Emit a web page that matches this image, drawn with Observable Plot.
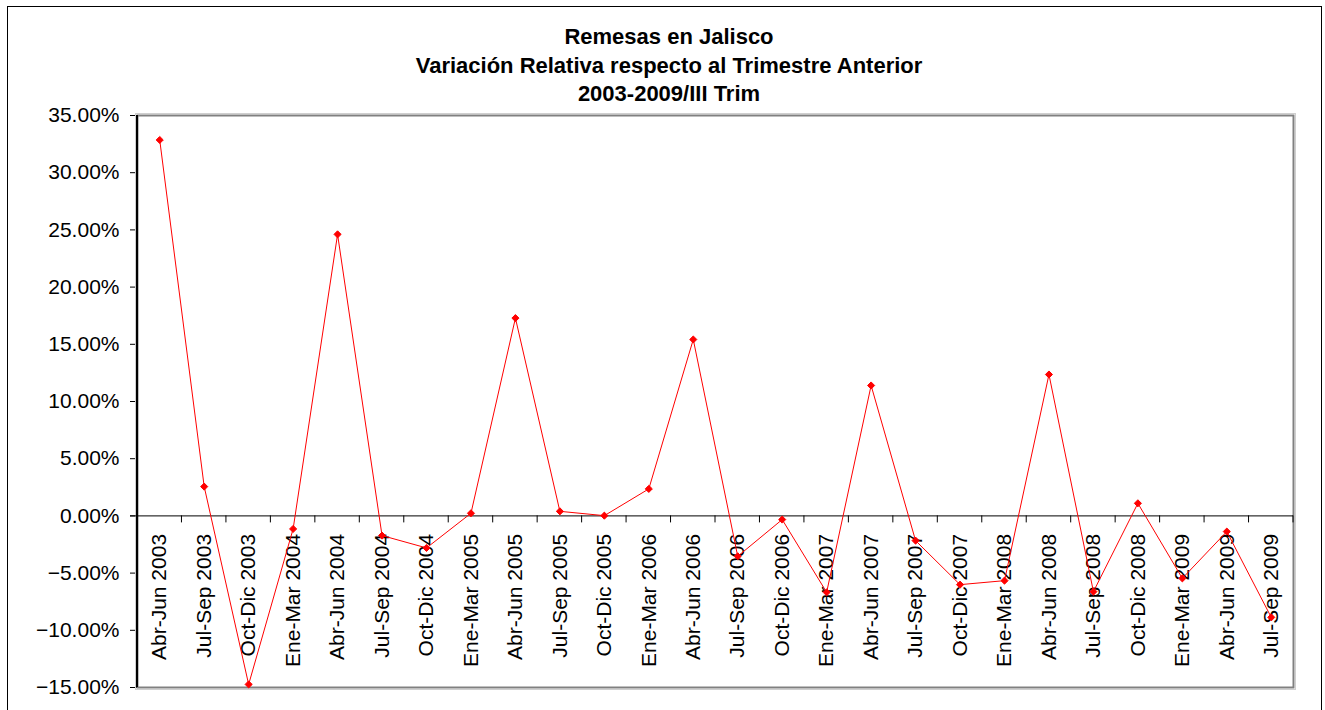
<!DOCTYPE html>
<html>
<head>
<meta charset="utf-8">
<script src="https://cdn.jsdelivr.net/npm/d3@7"></script>
<script src="https://cdn.jsdelivr.net/npm/@observablehq/plot@0.6"></script>
<style>
  html, body { margin: 0; padding: 0; background: #fff; }
  #wrap { position: relative; width: 1325px; height: 710px; overflow: hidden; font-family: Arial, "Liberation Sans", sans-serif; }
  #outer { position: absolute; left: 7px; top: 6px; width: 1315px; height: 720px; border: 1px solid #000; box-sizing: border-box; pointer-events: none; }
  #title { position: absolute; left: 11px; top: 23px; width: 1316px; text-align: center; font-weight: bold; font-size: 22px; line-height: 28.5px; color: #000; }
  #chart { position: absolute; left: 0; top: 85px; }
</style>
</head>
<body>
<div id="wrap">
  <div id="title">Remesas en Jalisco<br>Variación Relativa respecto al Trimestre Anterior<br>2003-2009/III Trim</div>
  <div id="chart"></div>
  <div id="outer"></div>
</div>
<script>
const categories = [
  "Abr-Jun 2003","Jul-Sep 2003","Oct-Dic 2003",
  "Ene-Mar 2004","Abr-Jun 2004","Jul-Sep 2004","Oct-Dic 2004",
  "Ene-Mar 2005","Abr-Jun 2005","Jul-Sep 2005","Oct-Dic 2005",
  "Ene-Mar 2006","Abr-Jun 2006","Jul-Sep 2006","Oct-Dic 2006",
  "Ene-Mar 2007","Abr-Jun 2007","Jul-Sep 2007","Oct-Dic 2007",
  "Ene-Mar 2008","Abr-Jun 2008","Jul-Sep 2008","Oct-Dic 2008",
  "Ene-Mar 2009","Abr-Jun 2009","Jul-Sep 2009"
];
const variacion = [
  0.3286, 0.0256, -0.1473,
  -0.0114, 0.2461, -0.0172, -0.0280,
  0.0023, 0.1729, 0.0040, 0.0002,
  0.0236, 0.1542, -0.0353, -0.0032,
  -0.0668, 0.1140, -0.0216, -0.0601,
  -0.0566, 0.1236, -0.0662, 0.0110,
  -0.0546, -0.0137, -0.0887
];
const yTicks = [-0.15, -0.10, -0.05, 0, 0.05, 0.10, 0.15, 0.20, 0.25, 0.30, 0.35];
const yDomain = [-0.15, 0.35];

const data = categories.map((c, i) => ({periodo: c, valor: variacion[i]}));

// zero-line tick marks at category boundaries, drawn through the library's scales
function zeroTicks(index, scales, values, dims) {
  const x = scales.x, y = scales.y;
  const step = x.step ? x.step() : (dims.width - dims.marginLeft - dims.marginRight) / categories.length;
  const y0 = y(0);
  const g = d3.create("svg:g").attr("stroke", "#000").attr("stroke-width", 1);
  const xs = categories.map(c => x(c) - step / 2);
  xs.push(x(categories[categories.length - 1]) + step / 2);
  for (const xv of xs) {
    g.append("line").attr("x1", xv).attr("x2", xv).attr("y1", y0).attr("y2", y0 + 7);
  }
  // left axis line
  g.append("line")
    .attr("x1", dims.marginLeft).attr("x2", dims.marginLeft)
    .attr("y1", y(yDomain[1])).attr("y2", y(yDomain[0]))
    .attr("stroke-width", 2);
  return g.node();
}

const plot = Plot.plot({
  width: 1325,
  height: 625,
  marginLeft: 137,
  marginRight: 32,
  marginTop: 30,
  marginBottom: 23,
  style: { fontFamily: "Arial, 'Liberation Sans', sans-serif", fontSize: "21px", color: "#000", background: "transparent" },
  x: { type: "point", domain: categories, padding: 0.5, round: false, axis: null },
  y: {
    domain: yDomain,
    ticks: yTicks,
    tickFormat: d3.format(".2%"),
    tickSize: 7,
    tickPadding: 11,
    label: null
  },
  marks: [
    Plot.frame({ stroke: "#cfcfcf", strokeWidth: 1, inset: -2 }),
    Plot.frame({ stroke: "#808080", strokeWidth: 2 }),
    Plot.ruleY([0], { stroke: "#000", strokeWidth: 1, insetLeft: -7 }),
    zeroTicks,
    Plot.text(categories, {
      x: d => d,
      y: () => 0,
      text: d => d,
      rotate: -90,
      textAnchor: "end",
      dy: 18,
      fontSize: 21,
      fill: "#000"
    }),
    Plot.line(data, { x: "periodo", y: "valor", stroke: "#ff0000", strokeWidth: 1 }),
    Plot.dot(data, { x: "periodo", y: "valor", symbol: "diamond2", r: 3.2, fill: "#ff0000", stroke: "#ff0000", strokeWidth: 1 })
  ]
});
document.getElementById("chart").appendChild(plot);
</script>
</body>
</html>
